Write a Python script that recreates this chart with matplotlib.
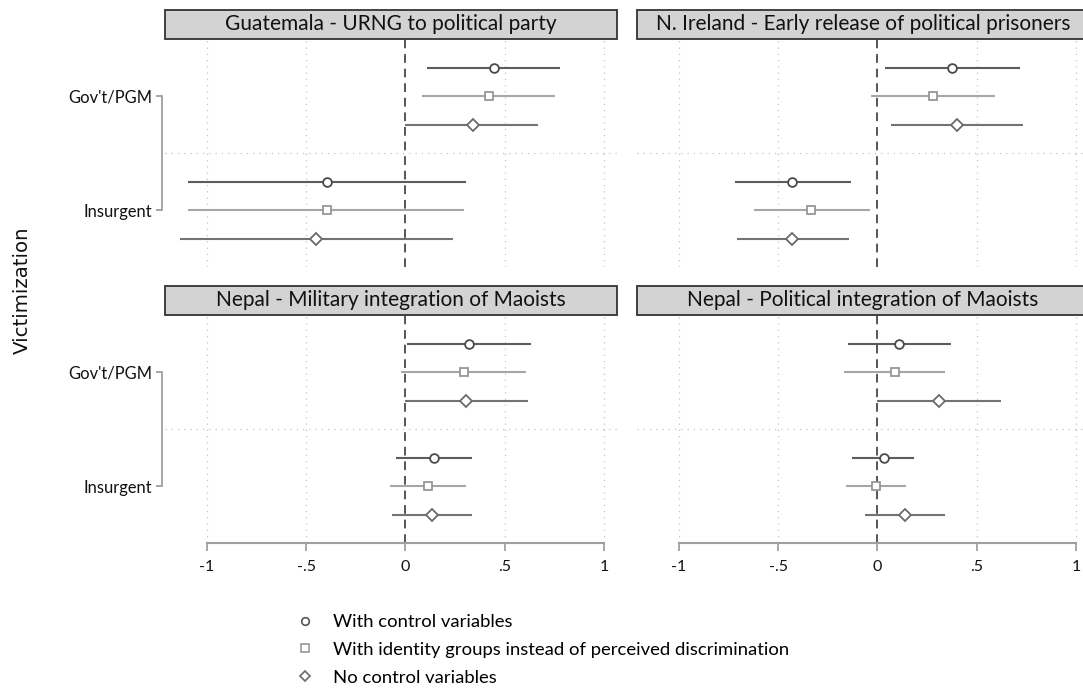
import matplotlib
matplotlib.use("Agg")
import matplotlib.pyplot as plt
from matplotlib.lines import Line2D
from matplotlib.patches import Rectangle

plt.rcParams["font.family"] = ["Lato", "DejaVu Sans"]

# ---- data -------------------------------------------------------------
panel_titles = [
    "Guatemala - URNG to political party",
    "N. Ireland - Early release of political prisoners",
    "Nepal - Military integration of Maoists",
    "Nepal - Political integration of Maoists",
]
groups = ["Gov't/PGM", "Insurgent"]
model_labels = [
    "With control variables",
    "With identity groups instead of perceived discrimination",
    "No control variables",
]

# estimates / 95% CI per panel: [Gov't/PGM, Insurgent]
est_controls = [[0.444, -0.396], [0.377, -0.428], [0.321, 0.145], [0.109, 0.032]]
lo_controls = [[0.110, -1.096], [0.039, -0.717], [0.010, -0.048], [-0.150, -0.128]]
hi_controls = [[0.777, 0.303], [0.717, -0.135], [0.631, 0.337], [0.370, 0.185]]

est_identity = [[0.420, -0.396], [0.278, -0.332], [0.293, 0.112], [0.089, -0.008]]
lo_identity = [[0.086, -1.096], [-0.030, -0.621], [-0.022, -0.080], [-0.170, -0.160]]
hi_identity = [[0.751, 0.295], [0.591, -0.039], [0.608, 0.305], [0.342, 0.143]]

est_nocontrol = [[0.339, -0.448], [0.399, -0.428], [0.307, 0.133], [0.311, 0.140]]
lo_nocontrol = [[0.000, -1.135], [0.067, -0.707], [-0.004, -0.068], [0.000, -0.061]]
hi_nocontrol = [[0.667, 0.241], [0.734, -0.143], [0.616, 0.333], [0.623, 0.338]]

xtick_values = [-1, -0.5, 0, 0.5, 1]
xtick_labels = ["-1", "-.5", "0", ".5", "1"]

# ---- styling ----------------------------------------------------------
models = [
    (est_controls, lo_controls, hi_controls, "o", "#5c5c5c", "#4a4a4a", 6.3),
    (est_identity, lo_identity, hi_identity, "s", "#a6a6a6", "#969696", 6.3),
    (est_nocontrol, lo_nocontrol, hi_nocontrol, "D", "#737373", "#6a6a6a", 6.0),
]

W, H = 1083, 697
fig = plt.figure(figsize=(W / 100, H / 100), dpi=100)


def frac_rect(x0, y0, x1, y1):
    return [x0 / W, 1 - y1 / H, (x1 - x0) / W, (y1 - y0) / H]


axes_px = [
    (165, 39, 617, 267),
    (637, 39, 1089, 267),
    (165, 315, 617, 543),
    (637, 315, 1089, 543),
]

for i, (x0, y0, x1, y1) in enumerate(axes_px):
    ax = fig.add_axes(frac_rect(x0, y0, x1, y1))
    ax.set_xlim(-1.21, 1.065)
    ax.set_ylim(8, 0)
    for s in ax.spines.values():
        s.set_visible(False)

    # grid
    for xv in xtick_values:
        if xv != 0:
            ax.axvline(xv, color="#c4c4c4", lw=0.9, ls=(0, (1, 4)), zorder=0)
    ax.axhline(4, color="#c4c4c4", lw=0.9, ls=(0, (1, 4)), zorder=0)
    ax.axvline(0, color="#555555", lw=1.4, ls=(0, (4.5, 3)), zorder=1)

    for g in range(2):
        for m, (est, lo, hi, mk, lc, mc, ms) in enumerate(models):
            yv = 1 + m + 4 * g
            ax.hlines(yv, lo[i][g], hi[i][g], color=lc, lw=1.5, zorder=2)
            ax.plot(est[i][g], yv, marker=mk, ms=ms,
                    mfc="white", mec=mc, mew=1.3, zorder=3, ls="none")

    # y axis bracket (left column only)
    if i % 2 == 0:
        ax.spines["left"].set_visible(True)
        ax.spines["left"].set_position(("outward", 2))
        ax.spines["left"].set_bounds(2, 6)
        ax.spines["left"].set_color("#a0a0a0")
        ax.spines["left"].set_linewidth(1.3)
        ax.set_yticks([2, 6])
        ax.set_yticklabels(groups, fontsize=11.9, color="#111111")
        ax.tick_params(axis="y", length=4, width=1.3, color="#a0a0a0", pad=3)
    else:
        ax.set_yticks([])

    # x axis (bottom row only)
    if i >= 2:
        ax.spines["bottom"].set_visible(True)
        ax.spines["bottom"].set_bounds(-1, 1)
        ax.spines["bottom"].set_color("#a0a0a0")
        ax.spines["bottom"].set_linewidth(1.5)
        ax.set_xticks(xtick_values)
        ax.set_xticklabels(xtick_labels, fontsize=11.5, color="#111111")
        ax.tick_params(axis="x", length=6, width=1.3, color="#a0a0a0", pad=6)
    else:
        ax.set_xticks([])

    # panel header
    ax.add_patch(Rectangle((0, 1.0), 1, 29 / 228, transform=ax.transAxes,
                           facecolor="#d3d3d3", edgecolor="#333333", lw=1.3,
                           clip_on=False, zorder=5))
    ax.text(0.5, 1 + 14.5 / 228, panel_titles[i], transform=ax.transAxes,
            ha="center", va="center", fontsize=15, color="#111111", zorder=6)

fig.text(22 / W, 1 - 290 / H, "Victimization", rotation=90, ha="center",
         va="center", fontsize=14.2, family="DejaVu Sans", color="#111111")

handles = [
    Line2D([], [], ls="none", marker="o", ms=5.5, mfc="white", mec="#555555", mew=1.2),
    Line2D([], [], ls="none", marker="s", ms=5.5, mfc="white", mec="#9a9a9a", mew=1.2),
    Line2D([], [], ls="none", marker="D", ms=5.5, mfc="white", mec="#6a6a6a", mew=1.2),
]
fig.legend(handles, model_labels, loc="upper left",
           bbox_to_anchor=(296 / W, 1 - 614 / H), frameon=False,
           fontsize=13.3, handlelength=1.0, handletextpad=1.0,
           labelspacing=0.64, borderpad=0, borderaxespad=0)

fig.savefig("out.png", dpi=100, facecolor="white")
